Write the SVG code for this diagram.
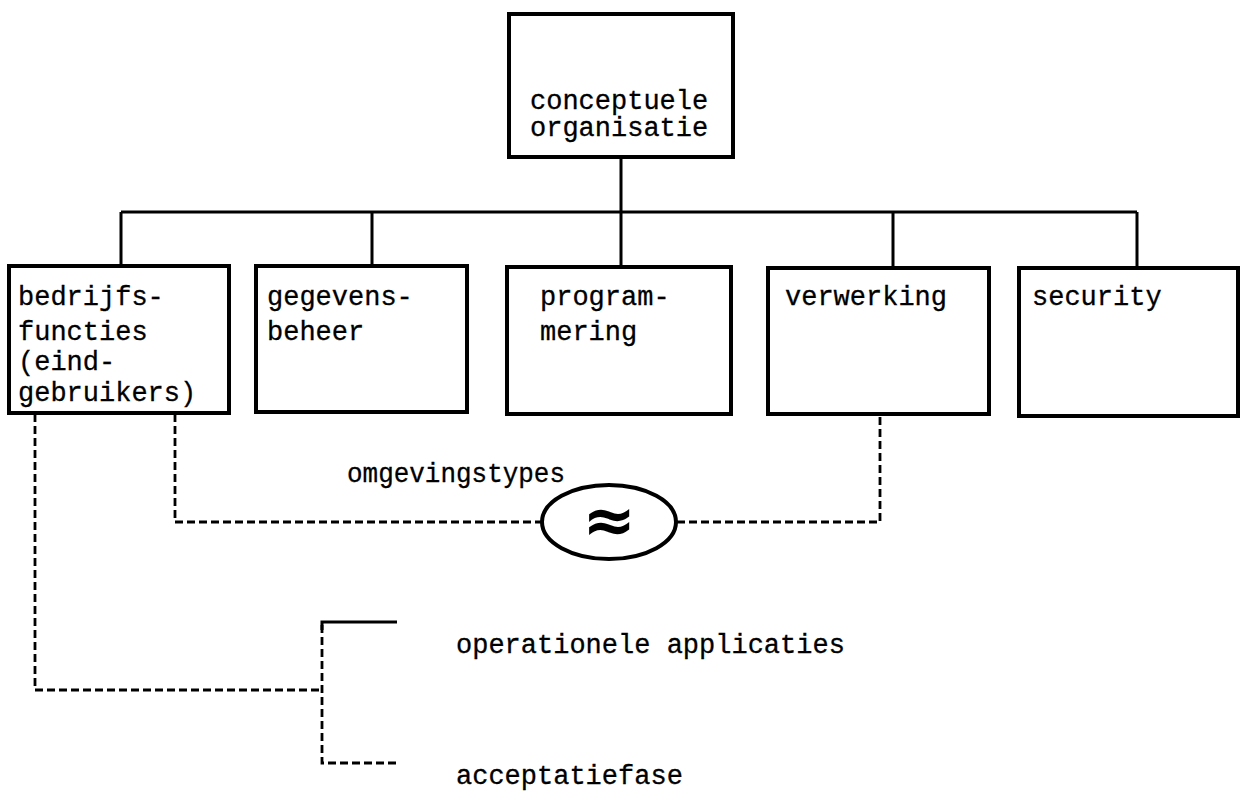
<svg xmlns="http://www.w3.org/2000/svg" width="1245" height="792" viewBox="0 0 1245 792">
  <style>
    .box { fill: #fff; stroke: #000; stroke-width: 4; }
    .lbl { font-family: "Liberation Mono", "DejaVu Sans Mono", monospace; font-size: 27px; fill: #000; stroke: #000; stroke-width: 0.3; }
    .tree { fill: none; stroke: #000; stroke-width: 3; }
    .dash { fill: none; stroke: #000; stroke-width: 2.8; stroke-dasharray: 8 4; }
  </style>
  <rect width="1245" height="792" fill="#fff"/>

  <!-- connectors -->
  <g id="connectors">
    <path class="tree" d="M621 157 V212 M121 212 H1137 M121 212 V266 M372 212 V266 M621 212 V267 M893 212 V268 M1137 212 V268"/>
    <path class="dash" d="M35 414 V690 H322"/>
    <path class="dash" d="M175 414 V522 H541"/>
    <path class="dash" d="M677 522 H880 V414"/>
    <path class="dash" d="M322 625 V763 H397"/>
    <path class="tree" d="M322 630 V622 H397" stroke-width="2.5"/>
  </g>

  <g id="n-conceptuele">
    <rect class="box" x="509" y="14" width="224" height="143"/>
    <text class="lbl" x="530" y="109">conceptuele</text>
    <text class="lbl" x="530" y="136">organisatie</text>
  </g>

  <g id="n-bedrijfsfuncties">
    <rect class="box" x="9" y="266" width="220" height="147"/>
    <text class="lbl" x="18" y="305">bedrijfs-</text>
    <text class="lbl" x="18" y="340">functies</text>
    <text class="lbl" x="18" y="370">(eind-</text>
    <text class="lbl" x="18" y="401">gebruikers)</text>
  </g>

  <g id="n-gegevensbeheer">
    <rect class="box" x="256" y="266" width="211" height="146"/>
    <text class="lbl" x="267" y="305">gegevens-</text>
    <text class="lbl" x="267" y="340">beheer</text>
  </g>

  <g id="n-programmering">
    <rect class="box" x="507" y="267" width="224" height="147"/>
    <text class="lbl" x="540" y="305">program-</text>
    <text class="lbl" x="540" y="340">mering</text>
  </g>

  <g id="n-verwerking">
    <rect class="box" x="768" y="268" width="221" height="146"/>
    <text class="lbl" x="785" y="305">verwerking</text>
  </g>

  <g id="n-security">
    <rect class="box" x="1019" y="268" width="219" height="148"/>
    <text class="lbl" x="1032" y="305">security</text>
  </g>

  <g id="n-omgevingstypes">
    <text class="lbl" x="347" y="482" textLength="218" lengthAdjust="spacingAndGlyphs">omgevingstypes</text>
    <ellipse cx="609" cy="522" rx="67" ry="37" fill="#fff" stroke="#000" stroke-width="4"/>
    <text x="609" y="542" text-anchor="middle" font-family="DejaVu Sans, sans-serif" font-size="64" font-weight="bold">≈</text>
  </g>

  <g id="n-operationele">
    <text class="lbl" x="456" y="653">operationele applicaties</text>
  </g>

  <g id="n-acceptatiefase">
    <text class="lbl" x="456" y="784">acceptatiefase</text>
  </g>
</svg>
